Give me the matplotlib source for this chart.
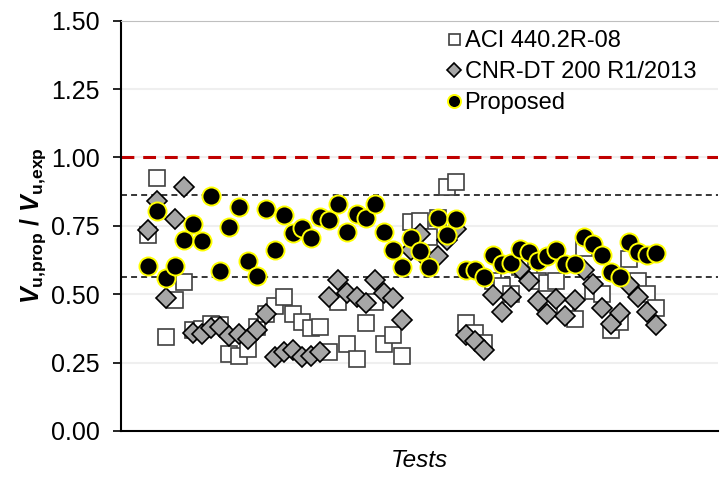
import matplotlib
matplotlib.use("Agg")
import matplotlib.pyplot as plt
import numpy as np

# values (test order along x)
aci = [0.715, 0.925, 0.344, 0.480, 0.544, 0.368, 0.374, 0.393, 0.386, 0.281,
       0.273, 0.298, 0.380, 0.427, 0.456, 0.490, 0.429, 0.398, 0.378, 0.380,
       0.290, 0.470, 0.317, 0.265, 0.395, 0.470, 0.317, 0.352, 0.273, 0.763,
       0.769, 0.708, 0.780, 0.891, 0.912, 0.395, 0.358, 0.320, 0.550, 0.530,
       0.500, 0.600, 0.570, 0.550, 0.540, 0.550, 0.450, 0.410, 0.670, 0.510,
       0.500, 0.370, 0.400, 0.630, 0.550, 0.500, 0.450]
cnr = [0.736, 0.840, 0.486, 0.775, 0.893, 0.358, 0.356, 0.378, 0.380, 0.347,
       0.356, 0.338, 0.371, 0.429, 0.271, 0.288, 0.295, 0.272, 0.275, 0.289,
       0.490, 0.553, 0.504, 0.490, 0.468, 0.553, 0.504, 0.487, 0.405, 0.660,
       0.720, 0.620, 0.640, 0.700, 0.740, 0.350, 0.329, 0.295, 0.496, 0.435,
       0.490, 0.593, 0.550, 0.475, 0.429, 0.484, 0.419, 0.478, 0.590, 0.538,
       0.450, 0.392, 0.432, 0.532, 0.490, 0.435, 0.386]
proposed = [0.605, 0.806, 0.559, 0.605, 0.700, 0.755, 0.694, 0.858, 0.584, 0.747,
            0.818, 0.620, 0.565, 0.812, 0.660, 0.791, 0.723, 0.743, 0.706, 0.784,
            0.773, 0.830, 0.729, 0.794, 0.778, 0.830, 0.729, 0.662, 0.600, 0.707,
            0.658, 0.598, 0.778, 0.717, 0.775, 0.587, 0.587, 0.563, 0.642, 0.611,
            0.616, 0.667, 0.654, 0.623, 0.638, 0.660, 0.609, 0.609, 0.711, 0.682,
            0.645, 0.583, 0.563, 0.690, 0.654, 0.645, 0.650]
labels = ["ACI 440.2R-08", "CNR-DT 200 R1/2013", "Proposed"]
ref_line = 1.0
band = [0.563, 0.863]
y_ticks = [0.00, 0.25, 0.50, 0.75, 1.00, 1.25, 1.50]

plt.rcParams['font.family'] = ['Liberation Sans', 'DejaVu Sans']
plt.rcParams['mathtext.fontset'] = 'custom'
plt.rcParams['mathtext.rm'] = 'Liberation Sans'
plt.rcParams['mathtext.bf'] = 'Liberation Sans:bold'
plt.rcParams['mathtext.it'] = 'Liberation Sans:italic'
plt.rcParams['mathtext.bfit'] = 'Liberation Sans:bold:italic'

x = np.arange(1, len(proposed) + 1)

fig = plt.figure(figsize=(7.2, 4.78), dpi=100)
ax = fig.add_axes([121 / 720, 1 - 431 / 478, (718 - 121) / 720, (431 - 20.7) / 478])

for t in y_ticks[1:-1]:
    ax.axhline(t, color='#efefef', lw=1.5, zorder=0)

ax.axhline(ref_line, color='#c00000', lw=2.2, linestyle=(0, (4.2, 2.9)), zorder=1)
for b in band:
    ax.axhline(b, color='black', lw=1.1, linestyle=(0, (3.9, 2.7)), zorder=1)

ax.plot(x, aci, 's', ms=11, mfc='white', mec='#404040', mew=1.2, label=labels[0], zorder=2)
ax.plot(x, cnr, 'D', ms=10, mfc='#a6a6a6', mec='black', mew=1.2, label=labels[1], zorder=3)
ax.plot(x, proposed, 'o', ms=13, mfc='black', mec='#ffff00', mew=1.4, label=labels[2], zorder=4)

ax.set_xlim(-1.94, 63.8)
ax.set_ylim(0, 1.5)
ax.set_yticks(y_ticks)
ax.set_yticklabels([f"{t:.2f}" for t in y_ticks], fontsize=18)
ax.set_xticks([])
ax.tick_params(axis='y', direction='out', length=5.5, width=1.2, pad=10)

ax.spines['right'].set_visible(False)
ax.spines['top'].set_color('#bfbfbf')
ax.spines['top'].set_linewidth(0.8)
ax.spines['left'].set_linewidth(1.5)
ax.spines['bottom'].set_linewidth(1.5)

ax.set_ylabel(r'$\mathbfit{V}_{\mathbf{u{,}prop}}\mathbf{\ /\ }\mathbfit{V}_{\mathbf{u{,}exp}}$',
              fontsize=18, labelpad=2)
ax.set_xlabel('Tests', fontsize=17.5, style='italic', labelpad=13)

leg = ax.legend(loc='upper left', bbox_to_anchor=(448 / 720, 1 - 30 / 478),
                bbox_transform=fig.transFigure, frameon=False, fontsize=17,
                markerscale=0.72, handlelength=0.5, handletextpad=0.2,
                labelspacing=0.38, borderpad=0, borderaxespad=0)

fig.savefig('out.png', dpi=100)
